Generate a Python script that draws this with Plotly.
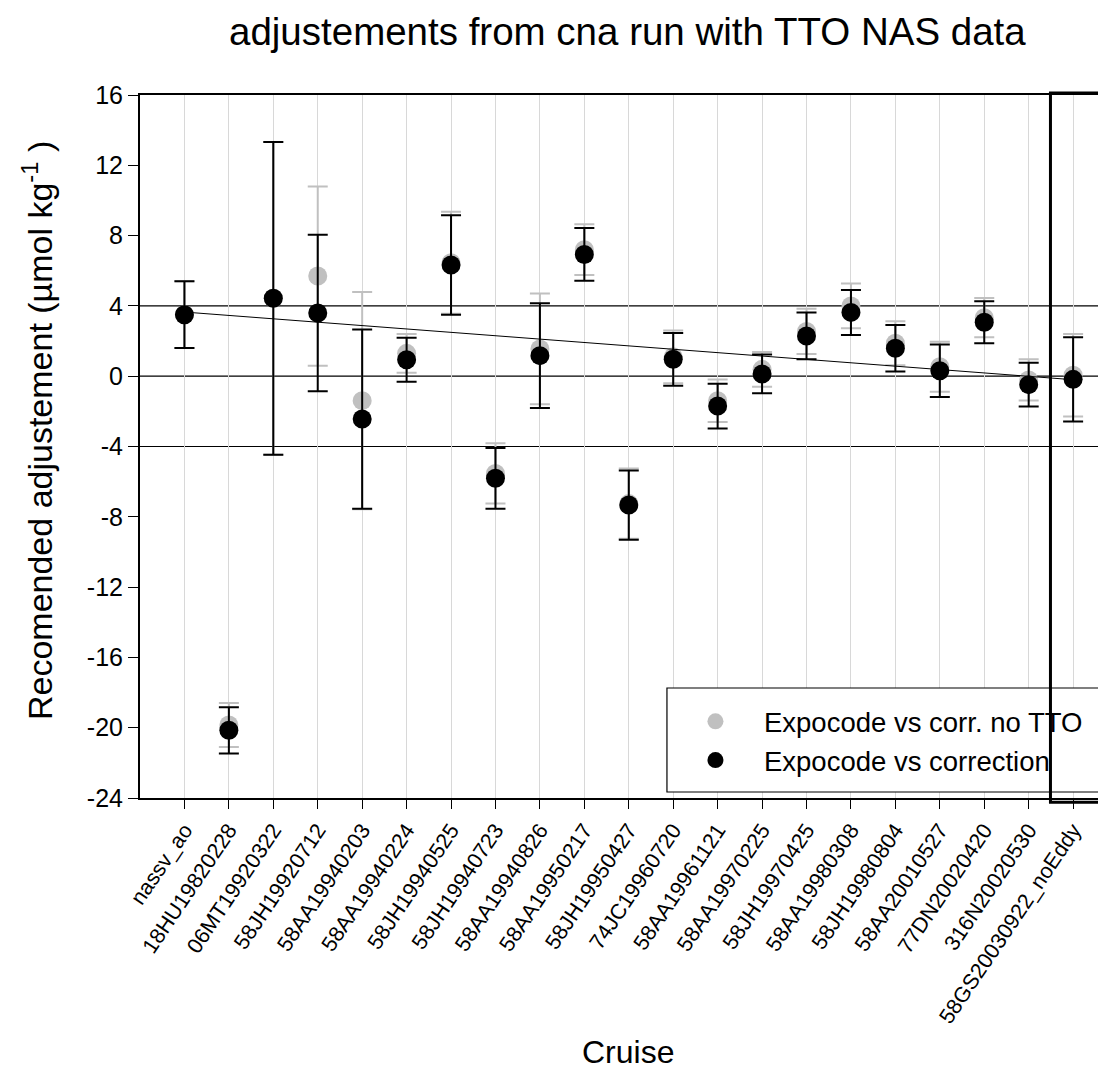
"""Recommended adjustments per cruise (cna run with TTO NAS data)."""

import plotly.graph_objects as go

cruises = [
    "nassv_ao", "18HU19820228", "06MT19920322", "58JH19920712", "58AA19940203",
    "58AA19940224", "58JH19940525", "58JH19940723", "58AA19940826", "58AA19950217",
    "58JH19950427", "74JC19960720", "58AA19961121", "58AA19970225", "58JH19970425",
    "58AA19980308", "58JH19980804", "58AA20010527", "77DN20020420", "316N20020530",
    "58GS20030922_noEddy",
]

# Expocode vs correction (black)
adj_corr = [3.5, -20.15, 4.43, 3.6, -2.44, 0.94, 6.33, -5.81, 1.17, 6.93,
            -7.33, 0.96, -1.70, 0.13, 2.29, 3.63, 1.59, 0.31, 3.07, -0.48, -0.18]
err_corr = [1.9, 1.32, 8.9, 4.45, 5.1, 1.25, 2.83, 1.73, 2.98, 1.5,
            1.97, 1.5, 1.27, 1.1, 1.33, 1.28, 1.32, 1.5, 1.2, 1.25, 2.4]

# Expocode vs corr. no TTO (grey)
adj_notto = [3.5, -19.85, 4.43, 5.7, -1.39, 1.3, 6.45, -5.53, 1.55, 7.2,
             -7.25, 1.1, -1.4, 0.39, 2.55, 4.0, 1.87, 0.54, 3.33, -0.21, 0.05]
err_notto = [1.9, 1.25, 8.9, 5.1, 6.18, 1.1, 2.9, 1.72, 3.15, 1.44,
             2.0, 1.5, 1.21, 0.99, 1.29, 1.27, 1.25, 1.42, 1.12, 1.17, 2.35]

# regression line drawn over the cruises
trend_idx = [0, 20]
trend_adj = [3.65, -0.2]

ref_levels = [4, 0, -4]
y_ticks = [16, 12, 8, 4, 0, -4, -8, -12, -16, -20, -24]
y_ticktext = ["16", "12", "8", "4", "0", "-4", "-8", "-12", "-16", "-20", "-24"]
highlight = "58GS20030922_noEddy"

FONT = "Arial, Liberation Sans, sans-serif"
GREY = "#c0c0c0"
XMIN, XMAX = -1, 20.74

idx = list(range(len(cruises)))

fig = go.Figure()
fig.add_trace(go.Scatter(
    x=idx, y=adj_notto, mode="markers", name="Expocode vs corr. no TTO",
    marker=dict(color=GREY, size=19),
    error_y=dict(type="data", array=err_notto, color=GREY, thickness=2, width=10),
))
fig.add_trace(go.Scatter(
    x=trend_idx, y=trend_adj, mode="lines", line=dict(color="black", width=1),
    showlegend=False, hoverinfo="skip",
))
fig.add_trace(go.Scatter(
    x=idx, y=adj_corr, mode="markers", name="Expocode vs correction",
    marker=dict(color="black", size=19),
    error_y=dict(type="data", array=err_corr, color="black", thickness=2, width=10),
))

for lv in ref_levels:
    fig.add_hline(y=lv, line=dict(color="black", width=1.2), layer="below")

# legend frame: an opaque box running off the right edge, as in the original
fig.add_shape(type="rect", xref="paper", yref="paper",
              x0=0.5455, x1=1.03, y0=0.0085, y1=0.1565, layer="above",
              line=dict(color="black", width=1.2), fillcolor="white")

# bold frame round the last cruise (drawn in paper units so it is not clipped)
h = cruises.index(highlight)
span = XMAX - XMIN
fig.add_shape(type="rect", xref="paper", yref="paper",
              x0=(h - 0.51 - XMIN) / span, x1=(h + 0.66 - XMIN) / span,
              y0=-0.006, y1=1.003, layer="above",
              line=dict(color="black", width=3), fillcolor="rgba(0,0,0,0)")

# axis titles as annotations so their places do not depend on tick label size
fig.add_annotation(
    text="Recomended adjustement (µmol kg<sup>-1</sup> )", textangle=-90,
    xref="paper", yref="paper", x=-0.1066, y=0.522,
    xanchor="center", yanchor="middle", showarrow=False,
    font=dict(size=34),
)
fig.add_annotation(
    text="Cruise", xref="paper", yref="paper", x=0.505, y=-0.361,
    xanchor="center", yanchor="middle", showarrow=False,
    font=dict(size=32),
)

# page body has an 8px margin, so the margins are shifted by that amount
fig.update_layout(
    width=1106, height=1068,
    margin=dict(l=132, r=8, t=87, b=278),
    plot_bgcolor="white", paper_bgcolor="white",
    font=dict(family=FONT, color="black", size=22),
    title=dict(text="adjustements from cna run with TTO NAS data",
               x=0.56, xanchor="center", y=0.978, yanchor="middle",
               font=dict(size=38.5)),
    legend=dict(x=0.5455, y=0.1437, xanchor="left", yanchor="top",
                borderwidth=0, bgcolor="rgba(0,0,0,0)", itemwidth=87,
                font=dict(size=27.5)),
    showlegend=True,
)
fig.update_xaxes(
    range=[XMIN, XMAX], tickmode="array", tickvals=idx, ticktext=cruises,
    tickangle=-56, tickfont=dict(size=21.5), ticks="outside", ticklen=9,
    tickcolor="black", showline=True, linecolor="black", linewidth=2,
    mirror=True, showgrid=True, gridcolor="#d8d8d8", gridwidth=1,
    zeroline=False, automargin=False,
)
fig.update_yaxes(
    range=[-24, 16], tickmode="array", tickvals=y_ticks, ticktext=y_ticktext,
    tickfont=dict(size=25), ticks="outside", ticklen=10, tickcolor="black",
    showline=True, linecolor="black", linewidth=2, showgrid=False, zeroline=False,
    automargin=False,
)

fig.write_html("out.html")
